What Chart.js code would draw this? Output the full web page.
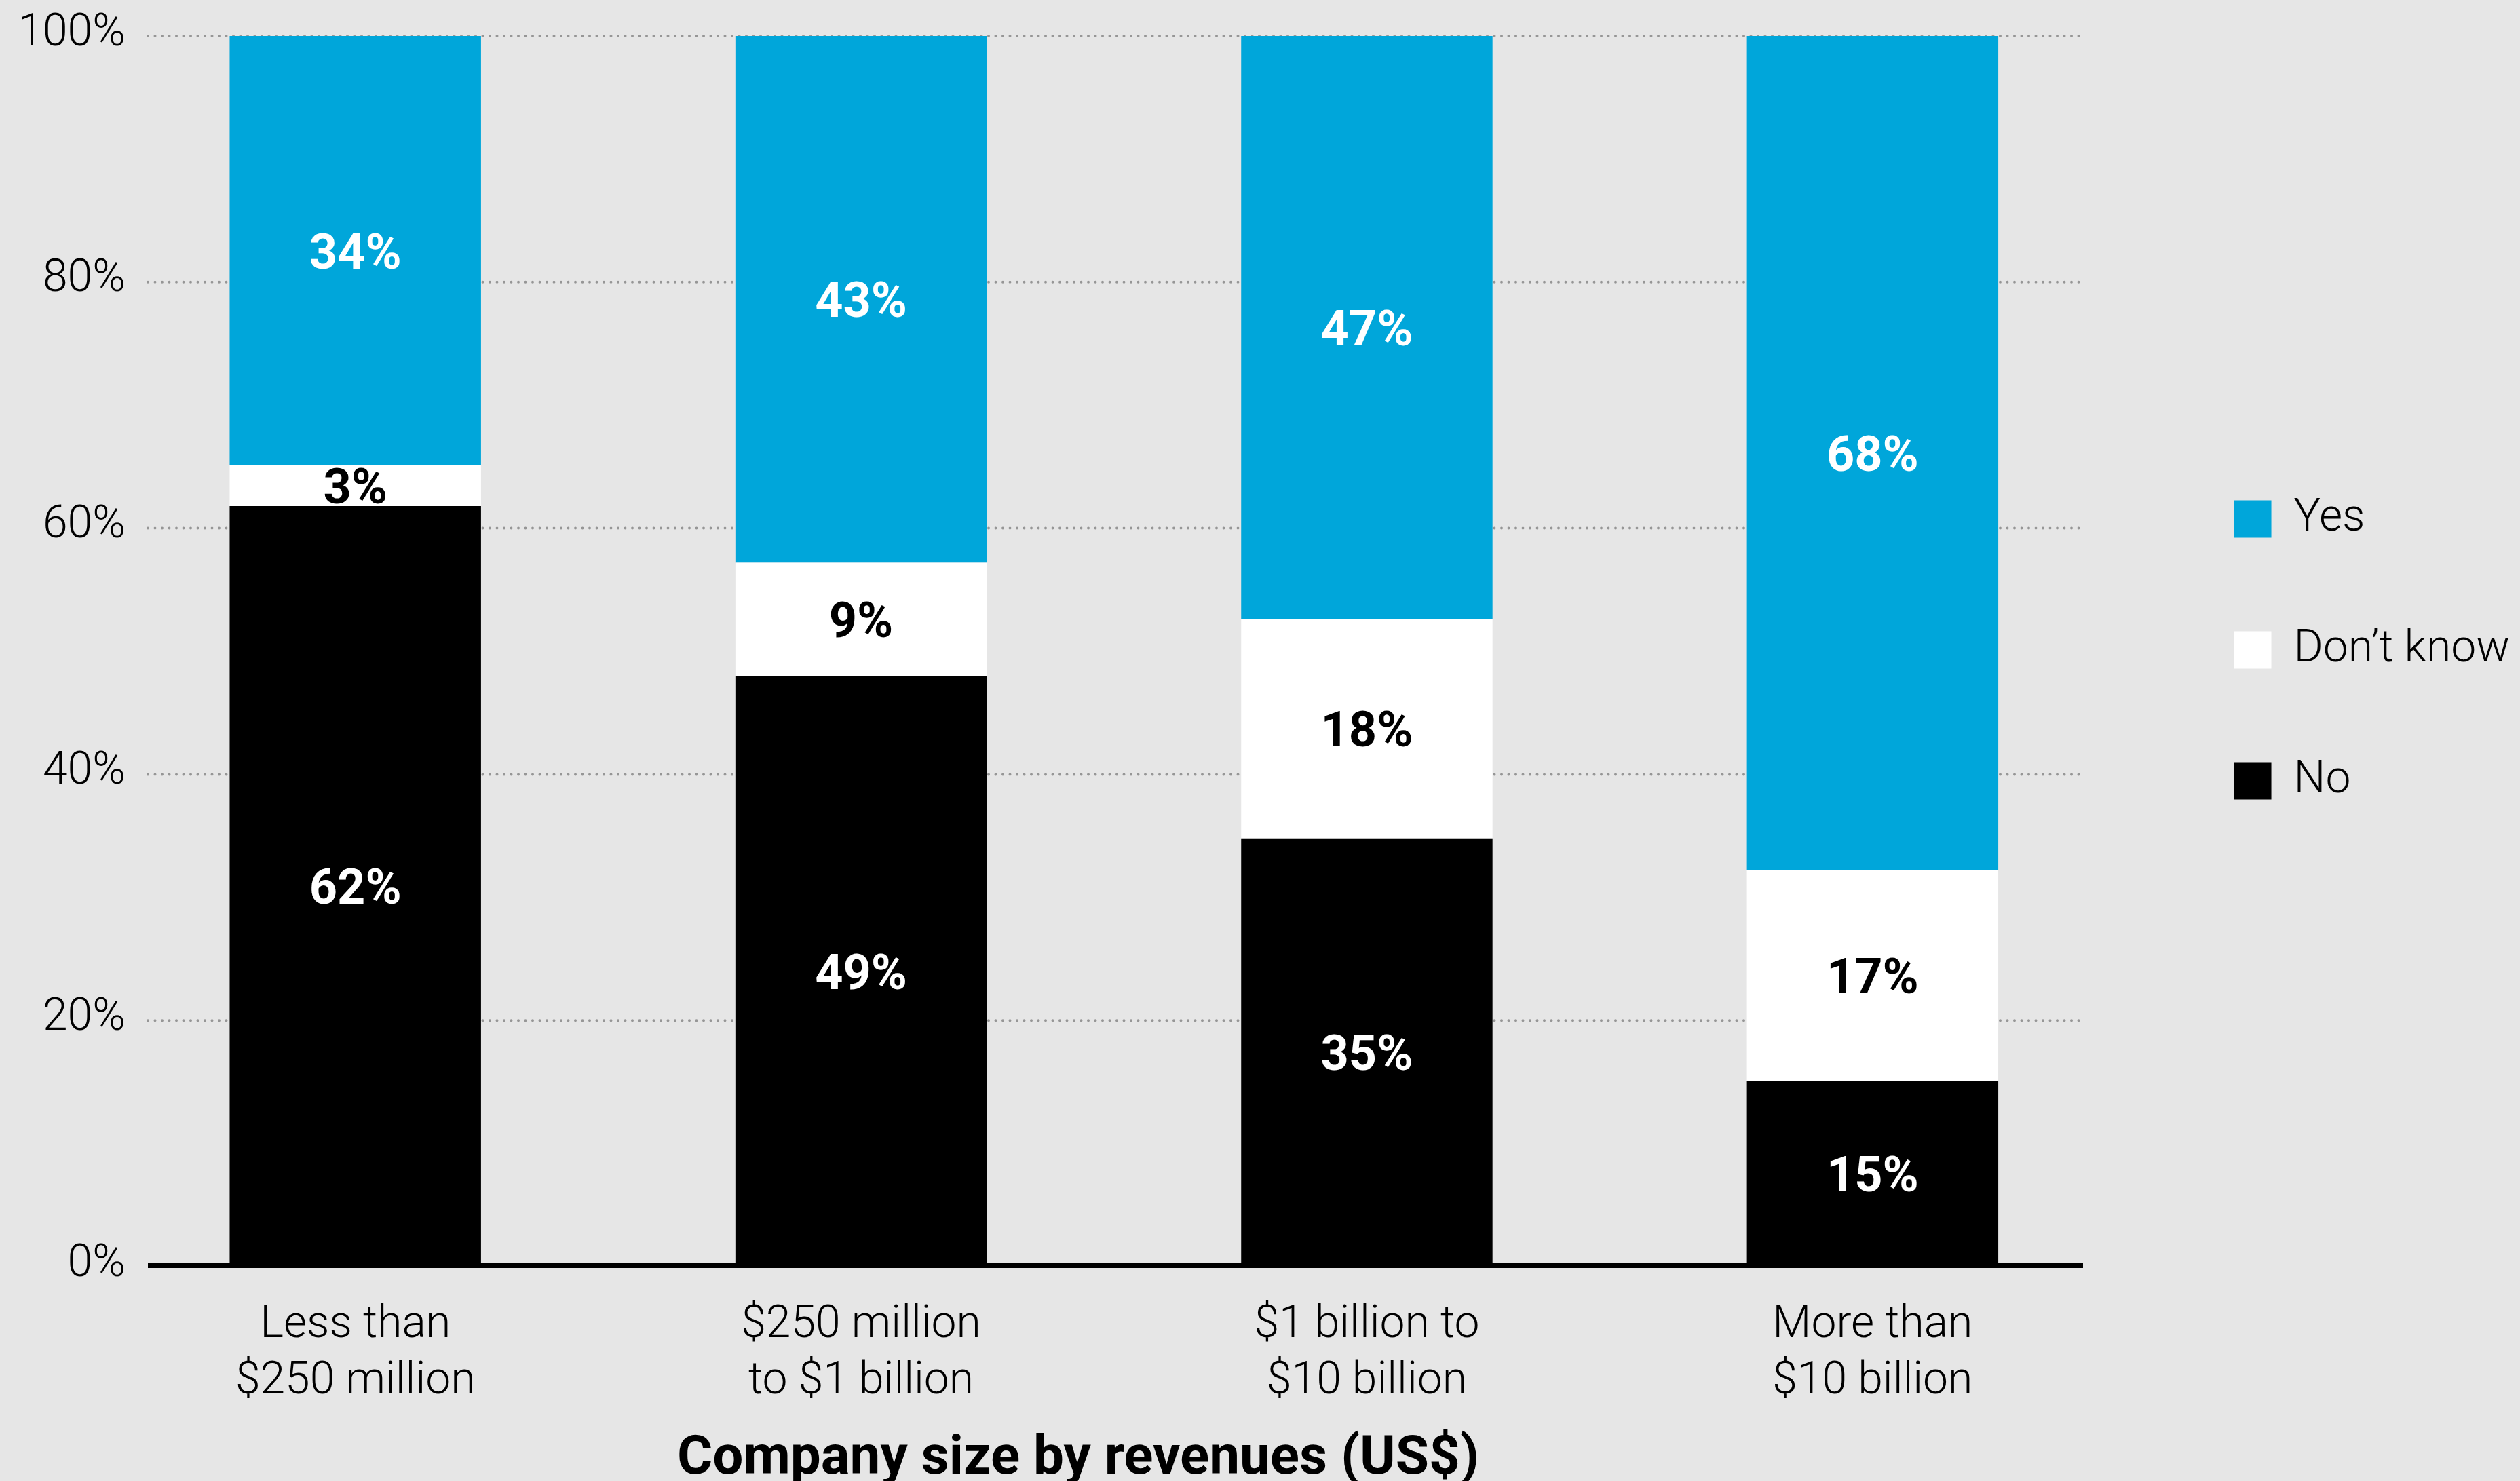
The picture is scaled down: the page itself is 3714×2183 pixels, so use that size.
<!DOCTYPE html>
<html>
<head>
<meta charset="utf-8">
<script src="https://cdn.jsdelivr.net/npm/chart.js@4"></script>
<style>
  html, body { margin: 0; padding: 0; background: #e6e6e6; overflow: hidden; }
  canvas { display: block; }
</style>
</head>
<body>
<canvas id="sizeChart" width="3714" height="2183"></canvas>
<script>
// Categories and values
const categories = [
    ['Less than', '$250 million'],
    ['$250 million', 'to $1 billion'],
    ['$1 billion to', '$10 billion'],
    ['More than', '$10 billion']
];

// bar segment heights (share of 100%)
const noShare = [61.8, 48.0, 34.8, 15.1];
const dontKnowShare = [3.3, 9.2, 17.8, 17.1];
const yesShare = [34.9, 42.8, 47.4, 67.8];

// printed labels
const noLabels = ['62%', '49%', '35%', '15%'];
const dontKnowLabels = ['3%', '9%', '18%', '17%'];
const yesLabels = ['34%', '43%', '47%', '68%'];

const yTicks = [0, 20, 40, 60, 80, 100];
const axisTitle = 'Company size by revenues (US$)';

const BLUE = '#00a6da';
const LIGHT = '300 66px Roboto, "Liberation Sans", sans-serif';

// Dotted grid lines + y tick labels behind the bars, black base line on top
const gridPlugin = {
    id: 'gridPlugin',
    beforeDatasetsDraw(chart) {
        const ctx = chart.ctx;
        const y = chart.scales.y;
        ctx.save();
        ctx.strokeStyle = '#969696';
        ctx.lineWidth = 4;
        ctx.lineCap = 'round';
        ctx.setLineDash([0, 10.5]);
        yTicks.forEach(v => {
            if (v === 0) return;
            const py = y.getPixelForValue(v);
            ctx.beginPath();
            ctx.moveTo(218, py);
            ctx.lineTo(3072, py);
            ctx.stroke();
        });
        ctx.setLineDash([]);
        ctx.fillStyle = '#000';
        ctx.font = LIGHT;
        ctx.textAlign = 'right';
        ctx.textBaseline = 'middle';
        yTicks.forEach(v => {
            ctx.fillText(v + '%', 185, y.getPixelForValue(v) - 3);
        });
        ctx.restore();
    },
    afterDatasetsDraw(chart) {
        const ctx = chart.ctx;
        const py = chart.scales.y.getPixelForValue(0);
        ctx.save();
        ctx.fillStyle = '#000';
        ctx.fillRect(218, py - 6, 2852, 8);
        // x axis title
        ctx.font = 'bold 80px Roboto, "Liberation Sans", sans-serif';
        ctx.textAlign = 'center';
        ctx.textBaseline = 'alphabetic';
        ctx.fillText(axisTitle, 1589, 2172);
        ctx.restore();
    }
};

// Value labels in the middle of every segment
const labelPlugin = {
    id: 'labelPlugin',
    afterDatasetsDraw(chart) {
        const ctx = chart.ctx;
        ctx.save();
        ctx.font = 'bold 72px Roboto, "Liberation Sans", sans-serif';
        ctx.textAlign = 'center';
        ctx.textBaseline = 'middle';
        chart.data.datasets.forEach((ds, i) => {
            const meta = chart.getDatasetMeta(i);
            meta.data.forEach((bar, j) => {
                ctx.fillStyle = ds.labelColor;
                ctx.fillText(ds.valueLabels[j], bar.x, (bar.y + bar.base) / 2 + 8);
            });
        });
        ctx.restore();
    }
};

// nudge the legend into place
const legendShift = {
    id: 'legendShift',
    afterLayout(chart) {
        const lg = chart.legend;
        lg.left += 33;
        lg.right += 33;
        lg.top -= 2;
        lg.bottom -= 2;
    }
};

const ctx = document.getElementById('sizeChart').getContext('2d');
new Chart(ctx, {
    type: 'bar',
    data: {
        labels: categories,
        datasets: [
            { label: 'No', data: noShare, backgroundColor: '#000000', valueLabels: noLabels, labelColor: '#ffffff' },
            { label: 'Don\u2019t know', data: dontKnowShare, backgroundColor: '#ffffff', valueLabels: dontKnowLabels, labelColor: '#000000' },
            { label: 'Yes', data: yesShare, backgroundColor: BLUE, valueLabels: yesLabels, labelColor: '#ffffff' }
        ]
    },
    options: {
        responsive: false,
        devicePixelRatio: 1,
        animation: false,
        datasets: {
            bar: { borderWidth: 0, categoryPercentage: 1, barPercentage: 0.497 }
        },
        layout: { padding: { top: 53, left: 0, right: 38, bottom: 0 } },
        scales: {
            x: {
                stacked: true,
                grid: { display: false, drawTicks: false },
                border: { display: false },
                ticks: { color: '#000', font: { family: 'Roboto', weight: 300, size: 66, lineHeight: 1.26 }, padding: 46, maxRotation: 0 },
                afterFit: (scale) => { scale.height = 316; }
            },
            y: {
                stacked: true,
                min: 0,
                max: 100,
                grid: { display: false, drawTicks: false },
                border: { display: false },
                ticks: { display: false, stepSize: 20 },
                afterFit: (scale) => { scale.width = 151; }
            }
        },
        plugins: {
            tooltip: { enabled: false },
            legend: {
                position: 'right',
                fullSize: false,
                maxWidth: 582,
                reverse: true,
                labels: {
                    color: '#000',
                    font: { family: 'Roboto', weight: 300, size: 66 },
                    boxWidth: 55,
                    boxHeight: 55,
                    padding: 127
                }
            }
        }
    },
    plugins: [gridPlugin, labelPlugin, legendShift]
});
</script>
</body>
</html>
